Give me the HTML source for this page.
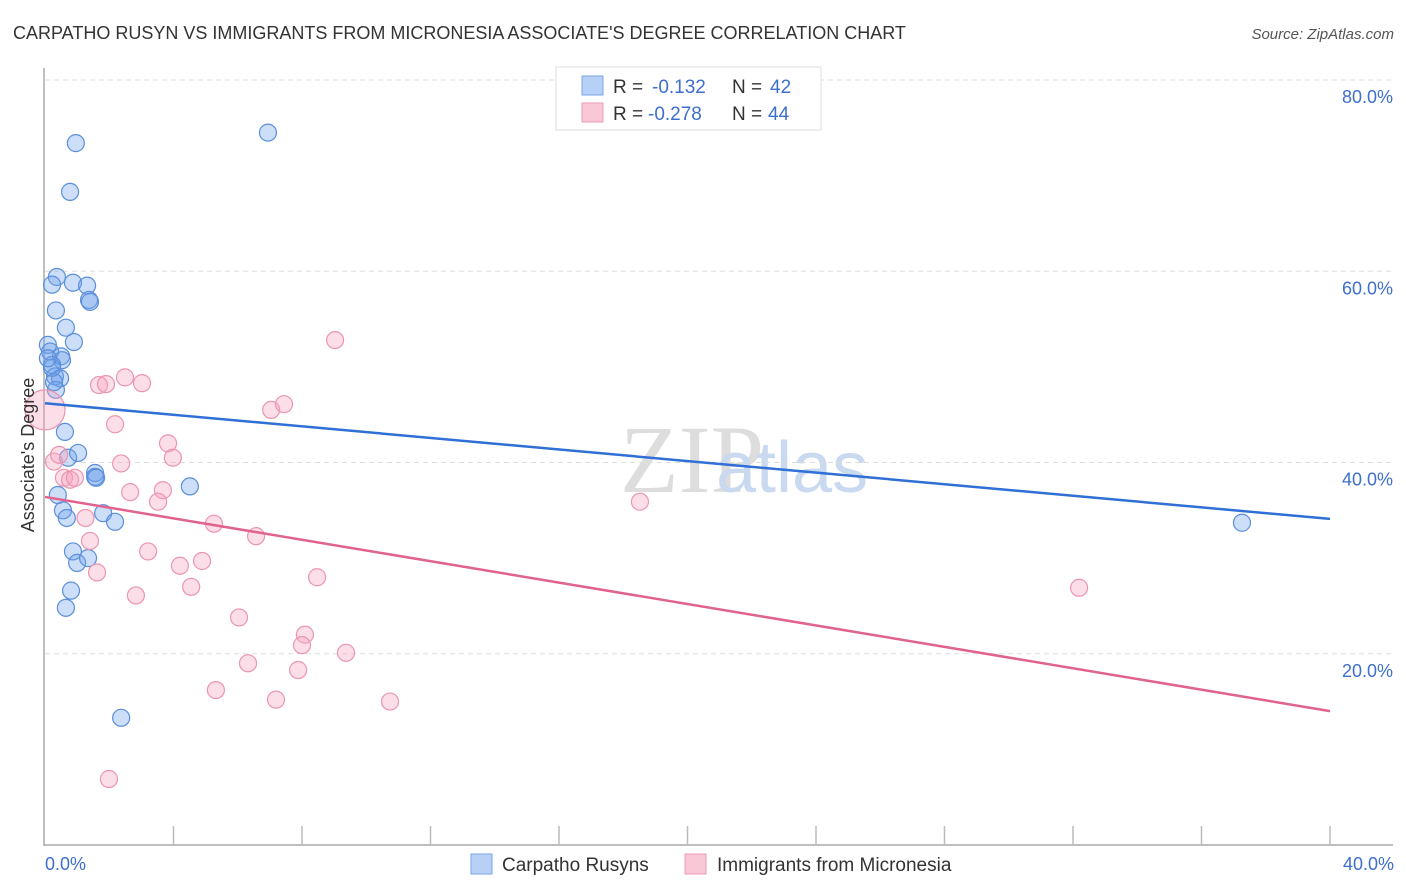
<!DOCTYPE html>
<html><head><meta charset="utf-8"><style>
body{margin:0;background:#fff;font-family:"Liberation Sans",sans-serif;}
svg{display:block}
</style></head><body>
<svg id="chart" width="1406" height="892" viewBox="0 0 1406 892">
<text x="13" y="39" font-size="18" fill="#333">CARPATHO RUSYN VS IMMIGRANTS FROM MICRONESIA ASSOCIATE'S DEGREE CORRELATION CHART</text>
<text x="1394" y="39" font-size="15" fill="#555" font-style="italic" text-anchor="end">Source: ZipAtlas.com</text>
<text x="620" y="492" font-size="96" fill="#ddd" font-family="Liberation Serif,serif">ZIP</text>
<text x="716" y="492" font-size="72" fill="#c9d9f0">atlas</text>
<g id="grid"></g>
<g id="axes"></g>
<g id="pts"></g>
<g id="lines"></g>
<text transform="translate(34,455) rotate(-90)" font-size="18" fill="#333" text-anchor="middle">Associate's Degree</text>
<text x="45" y="870" font-size="18" fill="#3d6fcc">0.0%</text>
<text x="1394" y="870" font-size="18" fill="#3d6fcc" text-anchor="end">40.0%</text>
<g>
<rect x="556" y="67" width="265" height="63" fill="#fff" stroke="#ddd"/>
<rect x="582" y="76" width="21" height="19" fill="#b8d0f5" stroke="#7aa5e6"/>
<rect x="582" y="103" width="21" height="19" fill="#f9c8d6" stroke="#ec9ab4"/>
<text x="613" y="93" font-size="19" fill="#333">R = </text><text x="652" y="93" font-size="19" fill="#3d6fcc">-0.132</text>
<text x="732" y="93" font-size="19" fill="#333">N = </text><text x="770" y="93" font-size="19" fill="#3d6fcc">42</text>
<text x="613" y="120" font-size="19" fill="#333">R = </text><text x="648" y="120" font-size="19" fill="#3d6fcc">-0.278</text>
<text x="732" y="120" font-size="19" fill="#333">N = </text><text x="768" y="120" font-size="19" fill="#3d6fcc">44</text>
</g>
<g>
<rect x="471" y="854" width="21" height="20" fill="#b8d0f5" stroke="#7aa5e6"/>
<text x="502" y="871" font-size="19" fill="#333">Carpatho Rusyns</text>
<rect x="685" y="854" width="21" height="20" fill="#f9c8d6" stroke="#ec9ab4"/>
<text x="717" y="871" font-size="19" fill="#333">Immigrants from Micronesia</text>
</g>
</svg>
<script>
const yTicks=[20,40,60,80];
const blueX=[0.96,0.78,6.94,0.37,0.22,0.87,1.31,1.37,1.40,0.34,0.65,0.90,0.09,0.16,0.50,0.53,0.22,0.31,0.47,0.34,0.62,0.72,1.03,1.56,1.56,1.59,4.51,0.40,0.56,0.68,1.81,2.18,0.87,1.00,1.34,0.81,0.65,2.37,37.26,0.22,0.09,0.28];
const blueY=[73.4,68.3,74.5,59.4,58.6,58.8,58.5,57.0,56.8,55.9,54.1,52.6,52.3,51.6,51.1,50.7,50.2,49.0,48.8,47.6,43.2,40.5,41.0,38.9,38.5,38.4,37.5,36.6,35.0,34.2,34.7,33.8,30.7,29.5,30.0,26.6,24.8,13.3,33.7,49.9,50.9,48.4];
const pinkX=[0,9.03,1.68,1.90,2.49,3.02,7.04,7.44,2.18,3.83,3.98,2.37,0.28,0.44,0.59,0.78,0.93,2.65,3.67,3.52,18.52,1.26,5.26,6.57,1.40,3.21,4.89,4.20,1.62,8.47,4.55,32.19,2.83,6.04,8.09,8.00,9.37,6.32,7.88,5.32,7.19,10.74,1.99];
const pinkY=[45.5,52.8,48.1,48.2,48.9,48.3,45.5,46.1,44.0,42.0,40.5,39.9,40.1,40.8,38.4,38.2,38.4,36.9,37.1,35.9,35.9,34.2,33.6,32.3,31.8,30.7,29.7,29.2,28.5,28.0,27.0,26.9,26.1,23.8,22.0,20.9,20.1,19.0,18.3,16.2,15.2,15.0,6.9];
const blueTrend=[46.2,34.1];
const pinkTrend=[36.4,14.0];
const xs=v=>45+v*1285/40, ys=v=>845-v*9.5625;
const NS='http://www.w3.org/2000/svg';
function mk(tag,attrs,parent){const e=document.createElementNS(NS,tag);for(const k in attrs)e.setAttribute(k,attrs[k]);parent.appendChild(e);return e;}
const grid=document.getElementById('grid'),axes=document.getElementById('axes'),pts=document.getElementById('pts'),lines=document.getElementById('lines');
yTicks.forEach(t=>{
 const l=mk('line',{x1:45,x2:1393,y1:ys(t),y2:ys(t),stroke:'#ddd','stroke-dasharray':'5,4'},grid);
 
 
 const tx=mk('text',{x:1393,y:ys(t)+23,'font-size':18,fill:'#3d6fcc','text-anchor':'end'},grid);
 tx.textContent=t.toFixed(1)+'%';
 
 
});
const ya=mk('line',{x1:44,x2:44,y1:68,y2:846,stroke:'#aaa','stroke-width':1.5},axes);


const xa=mk('line',{x1:44,x2:1393,y1:845,y2:845,stroke:'#aaa','stroke-width':1.5},axes);


for(let i=1;i<=10;i++){
 const tk=mk('line',{x1:xs(i*4),x2:xs(i*4),y1:826,y2:845,stroke:'#bbb','stroke-width':1.5},axes);
 
 
}
blueX.forEach((x,i)=>{
 const c=mk('circle',{cx:xs(x),cy:ys(blueY[i]),r:8.5,fill:'rgba(110,160,235,0.35)',stroke:'#5b8fdc','stroke-width':1.2},pts);
 
 
});
pinkX.forEach((x,i)=>{
 const c=mk('circle',{cx:xs(x),cy:ys(pinkY[i]),r:i===0?20:8.5,fill:'rgba(245,160,190,0.35)',stroke:'#eb95b0','stroke-width':1.2},pts);
 
 
});
const bl=mk('line',{x1:xs(0),x2:xs(40),y1:ys(blueTrend[0]),y2:ys(blueTrend[1]),stroke:'#2f6fd6','stroke-width':2.5},lines);


const pl=mk('line',{x1:xs(0),x2:xs(40),y1:ys(pinkTrend[0]),y2:ys(pinkTrend[1]),stroke:'#e2628f','stroke-width':2.5},lines);


</script>
</body></html>
